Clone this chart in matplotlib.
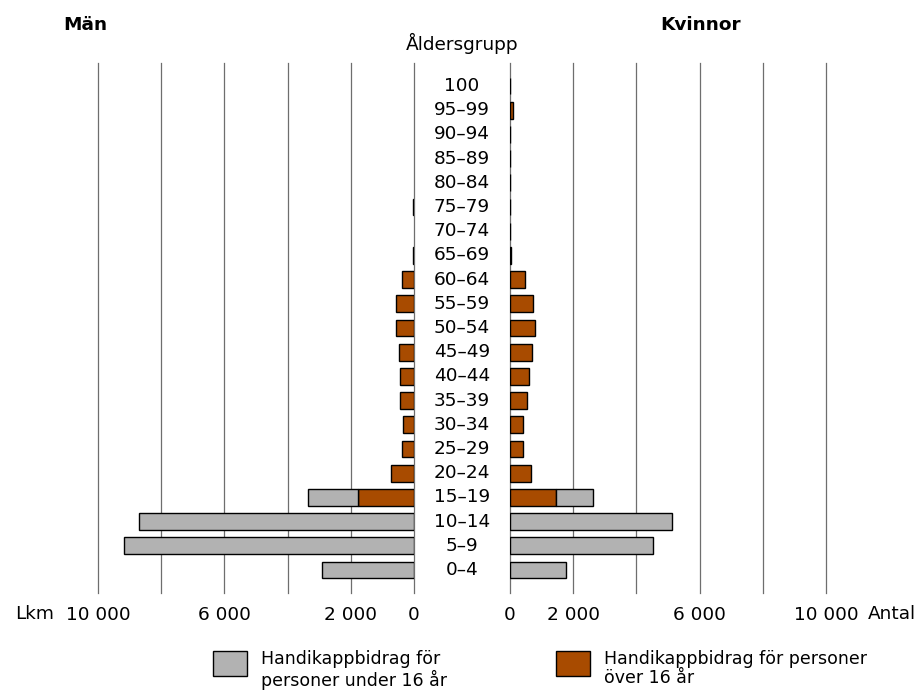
import matplotlib
matplotlib.use("Agg")
import matplotlib.pyplot as plt
from matplotlib.patches import Rectangle
from matplotlib.transforms import blended_transform_factory

plt.rcParams['font.family'] = ['DejaVu Sans']

categories = ["0–4", "5–9", "10–14", "15–19", "20–24", "25–29", "30–34", "35–39",
              "40–44", "45–49", "50–54", "55–59", "60–64", "65–69", "70–74", "75–79",
              "80–84", "85–89", "90–94", "95–99", "100"]

men_under16 = [2910, 9180, 8690, 1600, 0, 0, 0, 0, 0, 0, 0, 0, 0, 0, 0, 0, 0, 0, 0, 0, 0]
men_over16 = [0, 0, 0, 1770, 740, 395, 360, 433, 455, 480, 565, 555, 380, 30, 0, 25, 0, 0, 0, 0, 0]
women_under16 = [1770, 4540, 5120, 1185, 0, 0, 0, 0, 0, 0, 0, 0, 0, 0, 0, 0, 0, 0, 0, 0, 0]
women_over16 = [0, 0, 0, 1445, 650, 420, 405, 525, 590, 690, 790, 720, 485, 20, 15, 15, 10, 10, 10, 80, 10]

men_ticks = [10000, 6000, 2000, 0]
women_ticks = [0, 2000, 6000, 10000]
tick_labels_men = ["10 000", "6 000", "2 000", "0"]
tick_labels_women = ["0", "2 000", "6 000", "10 000"]
grid_values = [0, 2000, 4000, 6000, 8000, 10000]

legend_labels = ["Handikappbidrag för\npersoner under 16 år", "Handikappbidrag för personer\növer 16 år"]

GREY = "#b2b2b2"
ORANGE = "#a84b00"
GRIDC = "#6e6e6e"

W, H = 920, 695
fig = plt.figure(figsize=(W / 100, H / 100), dpi=100)

bottom = 1 - 593 / H
top = 1 - 63 / H
ax_m = fig.add_axes([98 / W, bottom, 316 / W, top - bottom])
ax_w = fig.add_axes([510 / W, bottom, 316 / W, top - bottom])

ypos = list(range(len(categories)))
bh = 0.70

def lw(vals):
    return [1.0 if v > 0 else 0 for v in vals]

for ax in (ax_m, ax_w):
    for g in grid_values:
        ax.axvline(g, color=GRIDC, lw=0.9, zorder=0, clip_on=False)
    for s in ax.spines.values():
        s.set_visible(False)
    ax.set_ylim(-0.95, 20.95)
    ax.tick_params(axis='y', left=False, labelleft=False)
    ax.tick_params(axis='x', length=0, labelsize=13.3, pad=9.5, colors='black')

# Men
ax_m.barh(ypos, men_over16, height=bh, color=ORANGE, edgecolor='black', linewidth=lw(men_over16), zorder=2)
ax_m.barh(ypos, men_under16, left=men_over16, height=bh, color=GREY, edgecolor='black', linewidth=lw(men_under16), zorder=2)
ax_m.set_xlim(10000, 0)
ax_m.set_xticks(men_ticks)
ax_m.set_xticklabels(tick_labels_men)

# Women
ax_w.barh(ypos, women_over16, height=bh, color=ORANGE, edgecolor='black', linewidth=lw(women_over16), zorder=2)
ax_w.barh(ypos, women_under16, left=women_over16, height=bh, color=GREY, edgecolor='black', linewidth=lw(women_under16), zorder=2)
ax_w.set_xlim(0, 10000)
ax_w.set_xticks(women_ticks)
ax_w.set_xticklabels(tick_labels_women)

# Category labels in the middle
tr = blended_transform_factory(fig.transFigure, ax_m.transData)
for y, c in zip(ypos, categories):
    fig.text(462 / W, y, c, transform=tr, ha='center', va='center', fontsize=13.3)

# Headers
fig.text(85 / W, 1 - 25 / H, "Män", ha='center', va='center', fontsize=13.3, fontweight='bold')
fig.text(701 / W, 1 - 25 / H, "Kvinnor", ha='center', va='center', fontsize=13.3, fontweight='bold')
fig.text(462 / W, 1 - 43 / H, "Åldersgrupp", ha='center', va='center', fontsize=13.3)

fig.text(15 / W, 1 - 614 / H, "Lkm", ha='left', va='center', fontsize=13.3)
fig.text(868 / W, 1 - 614 / H, "Antal", ha='left', va='center', fontsize=13.3)

# Legend
for x0, col, lab in [(213, GREY, legend_labels[0]), (556, ORANGE, legend_labels[1])]:
    fig.patches.append(Rectangle((x0 / W, 1 - 676 / H), 34 / W, 25 / H, transform=fig.transFigure,
                                 facecolor=col, edgecolor='black', linewidth=1.0))
    fig.text((x0 + 48) / W, 1 - 650 / H, lab, ha='left', va='top', fontsize=12.5, linespacing=1.1)

fig.savefig("out.png", dpi=100)
